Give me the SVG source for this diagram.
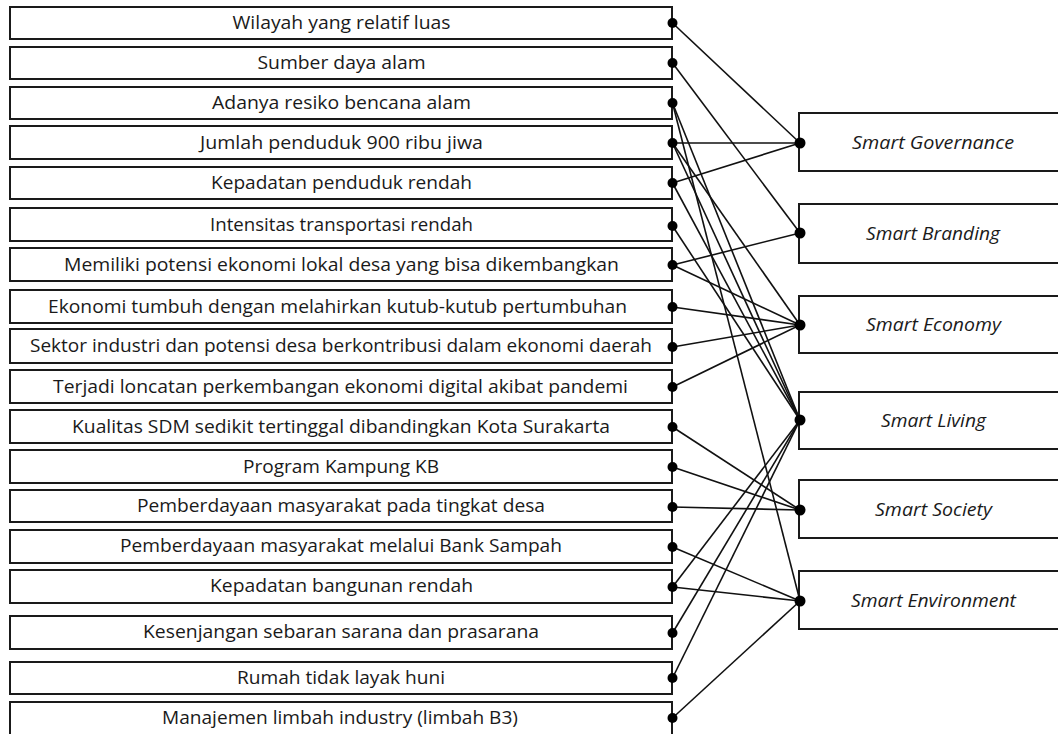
<svg xmlns="http://www.w3.org/2000/svg" width="1058" height="734" viewBox="0 0 1058 734">
<style>
.box{fill:#fff;stroke:#1a1a1a;stroke-width:2}
.lt{font-family:"Open Sans","Liberation Sans",sans-serif;font-size:17.5px;fill:#1a1a1a;text-anchor:middle}
.rt{font-family:"Open Sans","Liberation Sans",sans-serif;font-size:17.5px;font-style:italic;fill:#1a1a1a;text-anchor:middle}
.c line{stroke:#111;stroke-width:1.6}
.d{fill:#000}
</style>
<rect width="1058" height="734" fill="#fff"/>
<g id="l1"><rect class="box" x="10" y="7" width="662" height="32"/><text class="lt" x="341.5" y="29" textLength="218" lengthAdjust="spacingAndGlyphs">Wilayah yang relatif luas</text></g>
<g id="l2"><rect class="box" x="10" y="47" width="662" height="32"/><text class="lt" x="341.5" y="69" textLength="168" lengthAdjust="spacingAndGlyphs">Sumber daya alam</text></g>
<g id="l3"><rect class="box" x="10" y="87" width="662" height="32"/><text class="lt" x="341.5" y="109" textLength="259" lengthAdjust="spacingAndGlyphs">Adanya resiko bencana alam</text></g>
<g id="l4"><rect class="box" x="10" y="126" width="662" height="33"/><text class="lt" x="341.5" y="149" textLength="283" lengthAdjust="spacingAndGlyphs">Jumlah penduduk 900 ribu jiwa</text></g>
<g id="l5"><rect class="box" x="10" y="167" width="662" height="32"/><text class="lt" x="341.5" y="189" textLength="261" lengthAdjust="spacingAndGlyphs">Kepadatan penduduk rendah</text></g>
<g id="l6"><rect class="box" x="10" y="208" width="662" height="33"/><text class="lt" x="341.5" y="231" textLength="263" lengthAdjust="spacingAndGlyphs">Intensitas transportasi rendah</text></g>
<g id="l7"><rect class="box" x="10" y="248" width="662" height="33"/><text class="lt" x="341.5" y="271" textLength="555" lengthAdjust="spacingAndGlyphs">Memiliki potensi ekonomi lokal desa yang bisa dikembangkan</text></g>
<g id="l8"><rect class="box" x="10" y="290" width="662" height="33"/><text class="lt" x="337.5" y="313" textLength="579" lengthAdjust="spacingAndGlyphs">Ekonomi tumbuh dengan melahirkan kutub-kutub pertumbuhan</text></g>
<g id="l9"><rect class="box" x="10" y="329" width="662" height="34"/><text class="lt" x="341" y="352" textLength="622" lengthAdjust="spacingAndGlyphs">Sektor industri dan potensi desa berkontribusi dalam ekonomi daerah</text></g>
<g id="l10"><rect class="box" x="10" y="370" width="662" height="33"/><text class="lt" x="340.5" y="393" textLength="575" lengthAdjust="spacingAndGlyphs">Terjadi loncatan perkembangan ekonomi digital akibat pandemi</text></g>
<g id="l11"><rect class="box" x="10" y="410" width="662" height="33"/><text class="lt" x="341" y="433" textLength="538" lengthAdjust="spacingAndGlyphs">Kualitas SDM sedikit tertinggal dibandingkan Kota Surakarta</text></g>
<g id="l12"><rect class="box" x="10" y="450" width="662" height="33"/><text class="lt" x="341" y="473" textLength="196" lengthAdjust="spacingAndGlyphs">Program Kampung KB</text></g>
<g id="l13"><rect class="box" x="10" y="490" width="662" height="32"/><text class="lt" x="341" y="512" textLength="408" lengthAdjust="spacingAndGlyphs">Pemberdayaan masyarakat pada tingkat desa</text></g>
<g id="l14"><rect class="box" x="10" y="530" width="662" height="33"/><text class="lt" x="341" y="552" textLength="442" lengthAdjust="spacingAndGlyphs">Pemberdayaan masyarakat melalui Bank Sampah</text></g>
<g id="l15"><rect class="box" x="10" y="570" width="662" height="33"/><text class="lt" x="341.5" y="592" textLength="263" lengthAdjust="spacingAndGlyphs">Kepadatan bangunan rendah</text></g>
<g id="l16"><rect class="box" x="10" y="616" width="662" height="33"/><text class="lt" x="341" y="638" textLength="396" lengthAdjust="spacingAndGlyphs">Kesenjangan sebaran sarana dan prasarana</text></g>
<g id="l17"><rect class="box" x="10" y="662" width="662" height="32"/><text class="lt" x="341" y="684" textLength="208" lengthAdjust="spacingAndGlyphs">Rumah tidak layak huni</text></g>
<g id="l18"><rect class="box" x="10" y="702" width="662" height="34"/><text class="lt" x="340" y="724" textLength="356" lengthAdjust="spacingAndGlyphs">Manajemen limbah industry (limbah B3)</text></g>
<g id="r1"><rect class="box" x="799" y="113" width="270" height="58"/><text class="rt" x="933" y="149" textLength="162" lengthAdjust="spacingAndGlyphs">Smart Governance</text></g>
<g id="r2"><rect class="box" x="799" y="204" width="270" height="59"/><text class="rt" x="933" y="240" textLength="134" lengthAdjust="spacingAndGlyphs">Smart Branding</text></g>
<g id="r3"><rect class="box" x="799" y="296" width="270" height="57"/><text class="rt" x="933.5" y="331" textLength="135" lengthAdjust="spacingAndGlyphs">Smart Economy</text></g>
<g id="r4"><rect class="box" x="799" y="392" width="270" height="57"/><text class="rt" x="933.5" y="427" textLength="105" lengthAdjust="spacingAndGlyphs">Smart Living</text></g>
<g id="r5"><rect class="box" x="799" y="480" width="270" height="58"/><text class="rt" x="933.5" y="516" textLength="117" lengthAdjust="spacingAndGlyphs">Smart Society</text></g>
<g id="r6"><rect class="box" x="799" y="571" width="270" height="58"/><text class="rt" x="933.5" y="607" textLength="165" lengthAdjust="spacingAndGlyphs">Smart Environment</text></g>
<g id="connectors" class="c">
<line x1="672.5" y1="23" x2="800" y2="143"/>
<line x1="672.5" y1="63" x2="800" y2="233"/>
<line x1="672.5" y1="103" x2="800" y2="420"/>
<line x1="672.5" y1="103" x2="800" y2="601"/>
<line x1="672.5" y1="143" x2="800" y2="143"/>
<line x1="672.5" y1="143" x2="800" y2="420"/>
<line x1="672.5" y1="143" x2="800" y2="325"/>
<line x1="672.5" y1="183" x2="800" y2="143"/>
<line x1="672.5" y1="183" x2="800" y2="420"/>
<line x1="672.5" y1="226" x2="800" y2="420"/>
<line x1="672.5" y1="265" x2="800" y2="233"/>
<line x1="672.5" y1="265" x2="800" y2="325"/>
<line x1="672.5" y1="307" x2="800" y2="325"/>
<line x1="672.5" y1="347" x2="800" y2="325"/>
<line x1="672.5" y1="387" x2="800" y2="325"/>
<line x1="672.5" y1="427" x2="800" y2="510"/>
<line x1="672.5" y1="467" x2="800" y2="510"/>
<line x1="672.5" y1="507" x2="800" y2="510"/>
<line x1="672.5" y1="547" x2="800" y2="601"/>
<line x1="672.5" y1="587" x2="800" y2="420"/>
<line x1="672.5" y1="587" x2="800" y2="601"/>
<line x1="672.5" y1="633" x2="800" y2="420"/>
<line x1="672.5" y1="678" x2="800" y2="420"/>
<line x1="672.5" y1="718" x2="800" y2="601"/>
</g>
<g id="dots" class="d">
<circle cx="672.5" cy="23" r="5"/><circle cx="672.5" cy="63" r="5"/><circle cx="672.5" cy="103" r="5"/><circle cx="672.5" cy="143" r="5"/><circle cx="672.5" cy="183" r="5"/><circle cx="672.5" cy="226" r="5"/><circle cx="672.5" cy="265" r="5"/><circle cx="672.5" cy="307" r="5"/><circle cx="672.5" cy="347" r="5"/><circle cx="672.5" cy="387" r="5"/><circle cx="672.5" cy="427" r="5"/><circle cx="672.5" cy="467" r="5"/><circle cx="672.5" cy="507" r="5"/><circle cx="672.5" cy="547" r="5"/><circle cx="672.5" cy="587" r="5"/><circle cx="672.5" cy="633" r="5"/><circle cx="672.5" cy="678" r="5"/><circle cx="672.5" cy="718" r="5"/>
<circle cx="800" cy="143" r="5.5"/><circle cx="800" cy="233" r="5.5"/><circle cx="800" cy="325" r="5.5"/><circle cx="800" cy="420" r="5.5"/><circle cx="800" cy="510" r="5.5"/><circle cx="800" cy="601" r="5.5"/>
</g>
</svg>
